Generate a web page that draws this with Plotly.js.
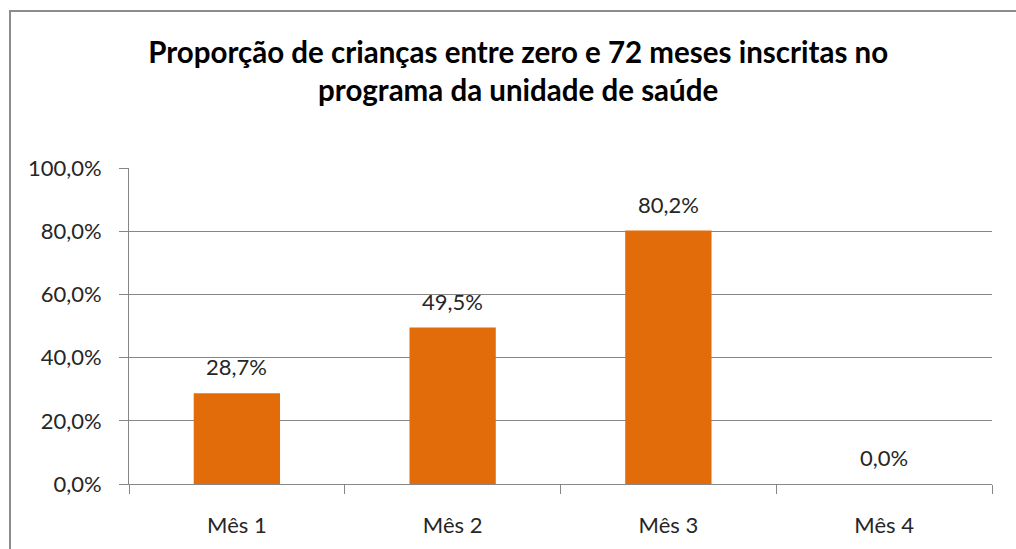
<!DOCTYPE html>
<html>
<head>
<meta charset="utf-8">
<script src="https://cdn.plot.ly/plotly-3.0.1.min.js"></script>
<style>
html,body{margin:0;padding:0;background:#fff;overflow:hidden;}
#wrap{position:relative;width:1016px;height:549px;overflow:hidden;}
#chart{position:absolute;left:0;top:0;width:1016px;height:549px;}
#frame{position:absolute;left:9px;top:10px;width:1100px;height:600px;border-left:2px solid #8c8c8c;border-top:2px solid #8c8c8c;pointer-events:none;}
</style>
</head>
<body>
<div id="wrap">
<div id="chart"></div>
<div id="frame"></div>
</div>
<script>
const categories = ["Mês 1", "Mês 2", "Mês 3", "Mês 4"];
const values = [0.287, 0.495, 0.802, 0.0];
const titleText = "Proporção de crianças entre zero e 72 meses inscritas no<br>programa da unidade de saúde";

const FONT = "Lato, 'Open Sans', sans-serif";
const TXT = "#262626";

const trace = {
  type: "bar",
  x: categories,
  y: values,
  marker: {color: "#E36C0A"},
  hoverinfo: "skip"
};

const annotations = categories.map((c, i) => ({
  x: c, y: values[i], xref: "x", yref: "y",
  text: (values[i] * 100).toFixed(1).replace(".", ",") + "%",
  showarrow: false, yanchor: "bottom", yshift: 11,
  font: {family: FONT, size: 22, color: TXT}
}));

const layout = {
  width: 1016, height: 549,
  margin: {l: 129, r: 24, t: 168, b: 65, pad: 0},
  paper_bgcolor: "rgba(0,0,0,0)", plot_bgcolor: "#fff",
  separators: ",.",
  showlegend: false,
  bargap: 0.6,
  title: {
    text: titleText,
    font: {family: FONT, size: 29.5, color: "#000", weight: "bold"},
    x: 0.51, xanchor: "center",
    y: 1 - 63/549, yanchor: "middle", yref: "container"
  },
  xaxis: {
    type: "category",
    showline: true, linecolor: "#868686", linewidth: 1,
    ticks: "outside", tickson: "boundaries", ticklen: 9, tickcolor: "#868686",
    showgrid: false, zeroline: false,
    tickfont: {family: FONT, size: 22, color: TXT},
    ticklabelstandoff: 22,
    fixedrange: true
  },
  yaxis: {
    range: [0, 1],
    tickvals: [0, 0.2, 0.4, 0.6, 0.8, 1.0],
    tickformat: ".1%",
    showline: true, linecolor: "#868686", linewidth: 1,
    ticks: "outside", ticklen: 9, tickcolor: "#868686",
    showgrid: true, gridcolor: "#868686", gridwidth: 1,
    zeroline: false,
    tickfont: {family: FONT, size: 22, color: TXT},
    ticklabelstandoff: 13,
    fixedrange: true
  },
  annotations: annotations
};

Plotly.newPlot("chart", [trace], layout, {displayModeBar: false, staticPlot: true});
</script>
</body>
</html>
